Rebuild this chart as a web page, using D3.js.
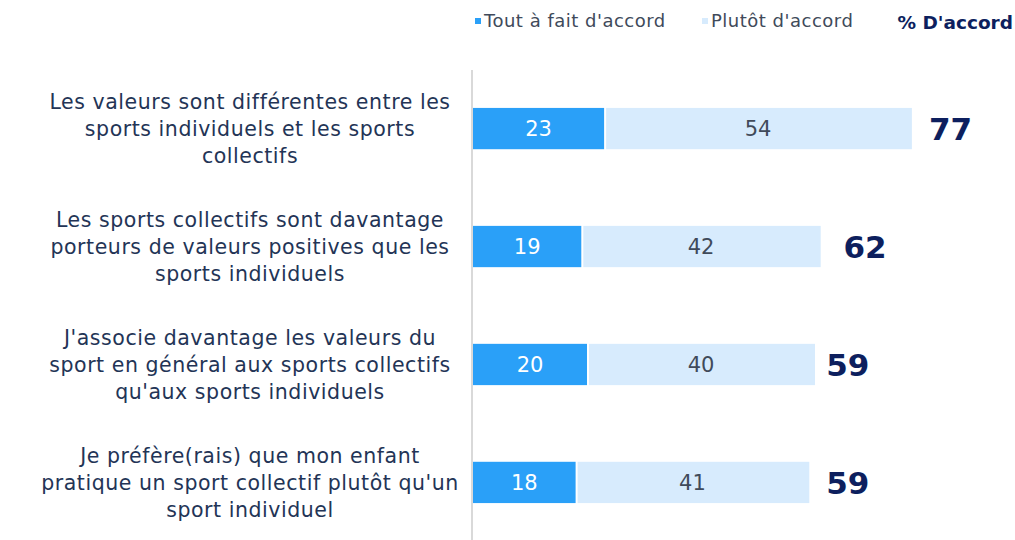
<!DOCTYPE html>
<html>
<head>
<meta charset="utf-8">
<script src="https://cdn.jsdelivr.net/npm/d3@7"></script>
<style>
  body { margin: 0; background: #fff; }
  svg { display: block; font-family: "DejaVu Sans", sans-serif; }
</style>
</head>
<body>
<svg id="chart" width="1015" height="540"></svg>
<script>
// Data
const statements = [
    ["Les valeurs sont différentes entre les", "sports individuels et les sports", "collectifs"],
    ["Les sports collectifs sont davantage", "porteurs de valeurs positives que les", "sports individuels"],
    ["J'associe davantage les valeurs du", "sport en général aux sports collectifs", "qu'aux sports individuels"],
    ["Je préfère(rais) que mon enfant", "pratique un sport collectif plutôt qu'un", "sport individuel"]
]
const toutAFait = [23, 19, 20, 18]
const plutot = [54, 42, 40, 41]
const totals = [77, 62, 59, 59]
const seriesNames = ["Tout à fait d'accord", "Plutôt d'accord"]

const colors = ['#2aa0f8', '#d7ebfd']
const svg = d3.select('#chart')

// Scales
const x = d3.scaleLinear().domain([0, 100]).range([473, 1043])
const y = d3.scaleBand()
    .domain(d3.range(statements.length))
    .range([69, 542])
    .paddingInner(0.65)
    .paddingOuter(0.33)

// Axis line
svg.append('line')
    .attr('x1', 472).attr('x2', 472)
    .attr('y1', 70).attr('y2', 540)
    .style('stroke', '#d9d9d9')
    .style('stroke-width', 2)

const rows = svg.selectAll('.row')
    .data(statements)
    .enter()
    .append('g')
    .attr('class', 'row')

// Bars
rows.append('rect')
    .attr('x', x(0))
    .attr('y', (d,i)=>y(i))
    .attr('width', (d,i)=>x(toutAFait[i])-x(0))
    .attr('height', y.bandwidth())
    .style('fill', colors[0])

rows.append('rect')
    .attr('x', (d,i)=>x(toutAFait[i])+2)
    .attr('y', (d,i)=>y(i))
    .attr('width', (d,i)=>x(toutAFait[i]+plutot[i])-x(toutAFait[i])-2)
    .attr('height', y.bandwidth())
    .style('fill', colors[1])

// Values in bars
rows.append('text')
    .attr('x', (d,i)=>(x(0)+x(toutAFait[i]))/2)
    .attr('y', (d,i)=>y(i)+y.bandwidth()/2)
    .attr('dy', '0.36em')
    .attr('text-anchor', 'middle')
    .style('fill', '#fff')
    .style('font-size', '21px')
    .text((d,i)=>toutAFait[i])

rows.append('text')
    .attr('x', (d,i)=>(x(toutAFait[i])+x(toutAFait[i]+plutot[i]))/2)
    .attr('y', (d,i)=>y(i)+y.bandwidth()/2)
    .attr('dy', '0.36em')
    .attr('text-anchor', 'middle')
    .style('fill', '#404a5a')
    .style('font-size', '21px')
    .text((d,i)=>plutot[i])

// Totals
rows.append('text')
    .attr('x', (d,i)=>x(totals[i])+17)
    .attr('y', (d,i)=>y(i)+y.bandwidth()/2)
    .attr('dy', '0.36em')
    .style('fill', '#0d1f5e')
    .style('font-size', '31px')
    .style('font-weight', 700)
    .text((d,i)=>totals[i])

// Category labels
rows.append('text')
    .attr('text-anchor', 'middle')
    .style('fill', '#233456')
    .style('font-size', '20.5px')
    .style('letter-spacing', '0.55px')
    .selectAll('tspan')
    .data((d,i)=>d.map(t=>({t:t, i:i})))
    .enter()
    .append('tspan')
    .attr('x', 250)
    .attr('y', (d,j)=>y(d.i)+y.bandwidth()/2+(j-1)*27)
    .attr('dy', '0.36em')
    .text(d=>d.t)

// Legend
const legendX = [475, 702]
seriesNames.forEach((name, i)=>{
    svg.append('rect')
        .attr('x', legendX[i]).attr('y', 18)
        .attr('width', 6).attr('height', 6)
        .style('fill', colors[i])
    svg.append('text')
        .attr('x', legendX[i]+9).attr('y', 21)
        .attr('dy', '0.36em')
        .style('fill', '#404a5a')
        .style('font-size', '18px')
        .style('letter-spacing', '0.5px')
        .text(name)
})
svg.append('text')
    .attr('x', 1013).attr('y', 22)
    .attr('dy', '0.36em')
    .attr('text-anchor', 'end')
    .style('fill', '#0d1f5e')
    .style('font-size', '18.5px')
    .style('font-weight', 700)
    .text("% D'accord")
</script>
</body>
</html>
